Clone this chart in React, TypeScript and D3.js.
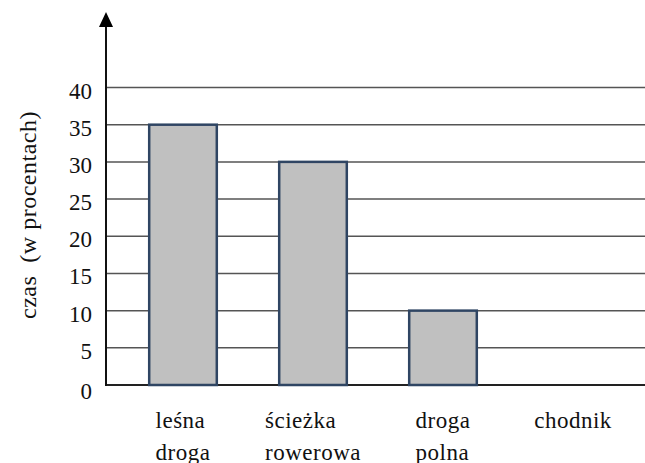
import React, { useRef, useEffect } from "react";
import * as d3 from "d3";

const categories = ["leśna droga", "ścieżka rowerowa", "droga polna", "chodnik"];
const values = [35, 30, 10, 0];
const yTicks = [0, 5, 10, 15, 20, 25, 30, 35, 40];
const yTitle = "czas  (w procentach)";

const width = 645;
const height = 463;
const font = "Liberation Serif, DejaVu Serif, serif";

const App: React.FC = () => {
  const ref = useRef<SVGGElement | null>(null);

  useEffect(() => {
    if (!ref.current) return;
    const g = d3.select(ref.current);
    g.selectAll("*").remove();

    const axisX = 106;
    const y = d3.scaleLinear().domain([0, 40]).range([385, 87.5]);
    const x = d3
      .scaleBand<string>()
      .domain(categories)
      .range([118, 638])
      .paddingInner(0.48)
      .paddingOuter(0.24);

    // gridlines
    g.selectAll(".grid")
      .data(yTicks)
      .join("line")
      .attr("class", "grid")
      .attr("x1", axisX)
      .attr("x2", width)
      .attr("y1", (d) => y(d))
      .attr("y2", (d) => y(d))
      .attr("stroke", (d) => (d === 0 ? "#222" : "#555"))
      .attr("stroke-width", (d) => (d === 0 ? 2 : 1.5));

    // bars
    g.selectAll(".bar")
      .data(values.map((v, i) => ({ v, c: categories[i] })).filter((d) => d.v > 0))
      .join("rect")
      .attr("class", "bar")
      .attr("x", (d) => x(d.c)!)
      .attr("width", x.bandwidth())
      .attr("y", (d) => y(d.v))
      .attr("height", (d) => y(0) - y(d.v))
      .attr("fill", "#c0c0c0")
      .attr("stroke", "#2f4563")
      .attr("stroke-width", 2.5);

    // y axis with arrow
    g.append("line")
      .attr("x1", axisX)
      .attr("x2", axisX)
      .attr("y1", 26)
      .attr("y2", y(0) + 1)
      .attr("stroke", "#111")
      .attr("stroke-width", 2);
    g.append("path")
      .attr("d", `M${axisX},12 L${axisX - 7},27 L${axisX + 7},27 Z`)
      .attr("fill", "#000");

    // tick labels
    g.selectAll(".tick-label")
      .data(yTicks)
      .join("text")
      .attr("class", "tick-label")
      .attr("x", 92)
      .attr("y", (d) => y(d) + (d === 0 ? 6 : 3))
      .attr("dy", "0.35em")
      .attr("text-anchor", "end")
      .style("font-family", font)
      .style("font-size", "23px")
      .attr("fill", "#111")
      .text((d) => d);

    // category labels, left aligned block centred on band
    categories.forEach((c) => {
      const lines = c.split(" ");
      const t = g
        .append("text")
        .style("font-family", font)
        .style("font-size", "23px")
        .style("letter-spacing", "0.5px")
        .attr("fill", "#111");
      lines.forEach((l, i) => {
        t.append("tspan").attr("y", 428 + i * 32).text(l);
      });
      const tspans = t.selectAll<SVGTSpanElement, unknown>("tspan").nodes();
      const w = d3.max(tspans, (n) => n.getComputedTextLength()) || 0;
      const left = x(c)! + x.bandwidth() / 2 - w / 2;
      t.selectAll("tspan").attr("x", left);
    });

    // y title
    g.append("text")
      .attr("transform", `translate(36,215) rotate(-90)`)
      .attr("text-anchor", "middle")
      .style("font-family", font)
      .style("font-size", "24px")
      .style("letter-spacing", "0.5px")
      .attr("fill", "#111")
      .style("white-space", "pre")
      .text(yTitle);
  }, []);

  return (
    <svg
      width={width}
      height={height}
      style={{ position: "absolute", left: 0, top: 0, background: "#fff" }}
    >
      <g ref={ref} />
    </svg>
  );
};

export default App;
